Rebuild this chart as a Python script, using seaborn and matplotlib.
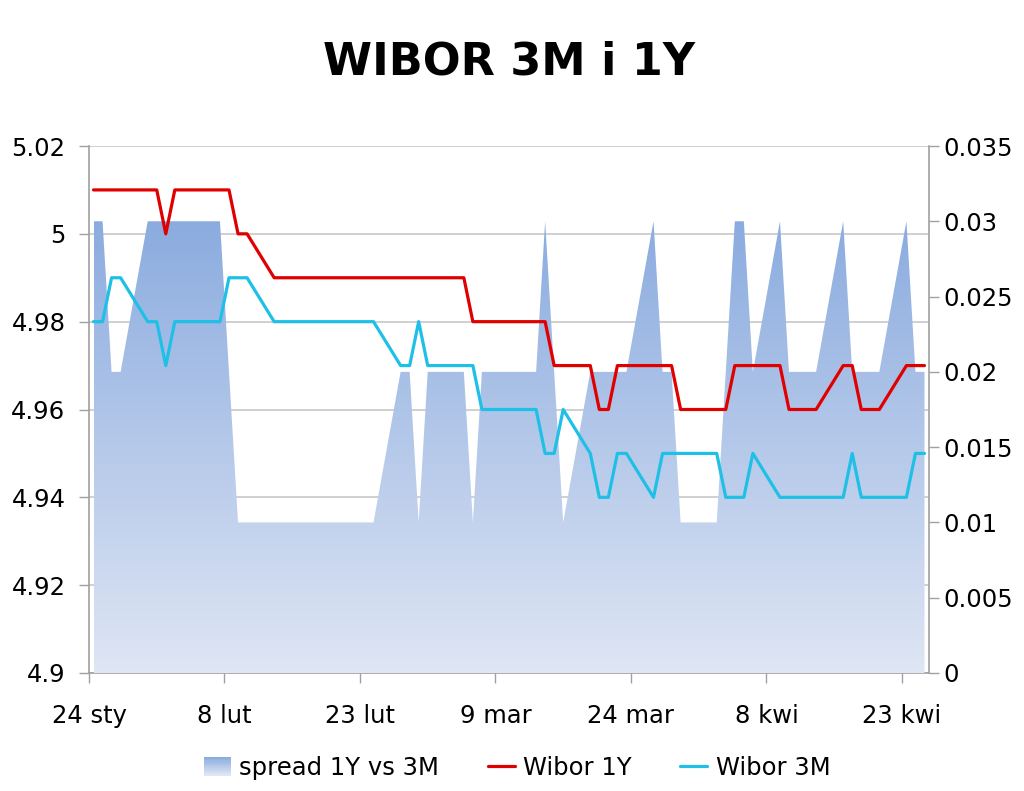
import numpy as np
import pandas as pd
import matplotlib
matplotlib.use("Agg")
import matplotlib.pyplot as plt
import matplotlib.dates as mdates
from matplotlib.lines import Line2D
from matplotlib.patches import Patch, Rectangle
from matplotlib.legend_handler import HandlerBase
from matplotlib.colors import to_rgb
import seaborn as sns

# ---------------- data ----------------
dates = [
    "2012-01-24", "2012-01-25", "2012-01-26", "2012-01-27",
    "2012-01-30", "2012-01-31", "2012-02-01", "2012-02-02", "2012-02-03",
    "2012-02-06", "2012-02-07", "2012-02-08", "2012-02-09", "2012-02-10",
    "2012-02-13", "2012-02-14", "2012-02-15", "2012-02-16", "2012-02-17",
    "2012-02-20", "2012-02-21", "2012-02-22", "2012-02-23", "2012-02-24",
    "2012-02-27", "2012-02-28", "2012-02-29", "2012-03-01", "2012-03-02",
    "2012-03-05", "2012-03-06", "2012-03-07", "2012-03-08", "2012-03-09",
    "2012-03-12", "2012-03-13", "2012-03-14", "2012-03-15", "2012-03-16",
    "2012-03-19", "2012-03-20", "2012-03-21", "2012-03-22", "2012-03-23",
    "2012-03-26", "2012-03-27", "2012-03-28", "2012-03-29", "2012-03-30",
    "2012-04-02", "2012-04-03", "2012-04-04", "2012-04-05", "2012-04-06",
    "2012-04-09", "2012-04-10", "2012-04-11", "2012-04-12", "2012-04-13",
    "2012-04-16", "2012-04-17", "2012-04-18", "2012-04-19", "2012-04-20",
    "2012-04-23", "2012-04-24", "2012-04-25",
]

wibor_1y = [
    5.01, 5.01, 5.01, 5.01,
    5.01, 5.01, 5.00, 5.01, 5.01,
    5.01, 5.01, 5.01, 5.00, 5.00,
    4.99, 4.99, 4.99, 4.99, 4.99,
    4.99, 4.99, 4.99, 4.99, 4.99,
    4.99, 4.99, 4.99, 4.99, 4.99,
    4.99, 4.98, 4.98, 4.98, 4.98,
    4.98, 4.98, 4.98, 4.97, 4.97,
    4.97, 4.96, 4.96, 4.97, 4.97,
    4.97, 4.97, 4.97, 4.96, 4.96,
    4.96, 4.96, 4.97, 4.97, 4.97,
    4.97, 4.96, 4.96, 4.96, 4.96,
    4.97, 4.97, 4.96, 4.96, 4.96,
    4.97, 4.97, 4.97,
]

wibor_3m = [
    4.98, 4.98, 4.99, 4.99,
    4.98, 4.98, 4.97, 4.98, 4.98,
    4.98, 4.98, 4.99, 4.99, 4.99,
    4.98, 4.98, 4.98, 4.98, 4.98,
    4.98, 4.98, 4.98, 4.98, 4.98,
    4.97, 4.97, 4.98, 4.97, 4.97,
    4.97, 4.97, 4.96, 4.96, 4.96,
    4.96, 4.96, 4.95, 4.95, 4.96,
    4.95, 4.94, 4.94, 4.95, 4.95,
    4.94, 4.95, 4.95, 4.95, 4.95,
    4.95, 4.94, 4.94, 4.94, 4.95,
    4.94, 4.94, 4.94, 4.94, 4.94,
    4.94, 4.95, 4.94, 4.94, 4.94,
    4.94, 4.95, 4.95,
]

spread = [
    0.03, 0.03, 0.02, 0.02,
    0.03, 0.03, 0.03, 0.03, 0.03,
    0.03, 0.03, 0.02, 0.01, 0.01,
    0.01, 0.01, 0.01, 0.01, 0.01,
    0.01, 0.01, 0.01, 0.01, 0.01,
    0.02, 0.02, 0.01, 0.02, 0.02,
    0.02, 0.01, 0.02, 0.02, 0.02,
    0.02, 0.02, 0.03, 0.02, 0.01,
    0.02, 0.02, 0.02, 0.02, 0.02,
    0.03, 0.02, 0.02, 0.01, 0.01,
    0.01, 0.02, 0.03, 0.03, 0.02,
    0.03, 0.02, 0.02, 0.02, 0.02,
    0.03, 0.02, 0.02, 0.02, 0.02,
    0.03, 0.02, 0.02,
]

tick_dates = ["2012-01-24", "2012-02-08", "2012-02-23", "2012-03-09",
              "2012-03-24", "2012-04-08", "2012-04-23"]
tick_labels = ["24 sty", "8 lut", "23 lut", "9 mar", "24 mar", "8 kwi", "23 kwi"]

left_ticks = [4.9, 4.92, 4.94, 4.96, 4.98, 5.0, 5.02]
left_labels = ["4.9", "4.92", "4.94", "4.96", "4.98", "5", "5.02"]
right_ticks = [0, 0.005, 0.01, 0.015, 0.02, 0.025, 0.03, 0.035]
right_labels = ["0", "0.005", "0.01", "0.015", "0.02", "0.025", "0.03", "0.035"]

x_start, x_end = "2012-01-24", "2012-04-26"

# ---------------- style ----------------
sns.set_style("white")
plt.rcParams["font.family"] = ["DejaVu Sans"]
plt.rcParams["text.color"] = "black"

RED = "#E00000"
CYAN = "#1EC0E6"
TOP = np.array(to_rgb("#8AABDF"))
BOT = np.array(to_rgb("#DFE6F4"))
AXC = "#A0A0A0"
GRIDC = "#C8C8C8"
FS = 17.5

df = pd.DataFrame({
    "date": pd.to_datetime(dates) + pd.Timedelta(hours=12),
    "w1y": wibor_1y,
    "w3m": wibor_3m,
    "spread": spread,
})

W, H = 1024, 791
fig = plt.figure(figsize=(W / 100, H / 100), dpi=100)
L, R, T, B = 89, 929, 146, 673
ax = fig.add_axes([L / W, 1 - B / H, (R - L) / W, (B - T) / H])
ax2 = ax.twinx()   # spread area (right axis)
ax3 = ax.twinx()   # lines (left scale)

ax.set_zorder(1)
ax2.set_zorder(2)
ax3.set_zorder(3)
for a in (ax2, ax3):
    a.patch.set_visible(False)

# ---- area with vertical gradient ----
xnum = mdates.date2num(df["date"])
poly = ax2.fill_between(xnum, 0, df["spread"], facecolor="none", edgecolor="none")
grad = np.linspace(0, 1, 256)[:, None]
img = TOP[None, None, :] * (1 - grad[..., None]) + BOT[None, None, :] * grad[..., None]
im = ax2.imshow(img, extent=[xnum.min(), xnum.max(), 0, max(spread) * 1.01],
                aspect="auto", origin="upper", interpolation="bilinear", zorder=1)
im.set_clip_path(poly.get_paths()[0], transform=ax2.transData)

# ---- lines ----
sns.lineplot(data=df, x="date", y="w1y", ax=ax3, color=RED, linewidth=2.3)
sns.lineplot(data=df, x="date", y="w3m", ax=ax3, color=CYAN, linewidth=2.3)

# ---- axes limits/ticks ----
xlo, xhi = pd.Timestamp(x_start), pd.Timestamp(x_end)
for a in (ax, ax2, ax3):
    a.set_xlim(xlo, xhi)
ax.set_ylim(4.9, 5.02)
ax3.set_ylim(4.9, 5.02)
ax2.set_ylim(0, 0.035)

ax.set_xticks(pd.to_datetime(tick_dates))
ax.set_xticklabels(tick_labels)
ax.set_yticks(left_ticks)
ax.set_yticklabels(left_labels)
ax2.set_yticks(right_ticks)
ax2.set_yticklabels(right_labels)

ax.grid(axis="y", color=GRIDC, linewidth=1.2)
ax.grid(axis="x", visible=False)
ax.tick_params(axis="x", direction="out", length=7, width=1, color=AXC,
               labelcolor="black", labelsize=FS, pad=15, bottom=True)
ax.tick_params(axis="y", direction="out", length=7, width=1, color=AXC,
               labelcolor="black", labelsize=FS, pad=10, left=True)
ax2.tick_params(axis="y", direction="out", length=7, width=1, color=AXC,
                labelcolor="black", labelsize=FS, pad=3, right=True)

ax3.set_axis_off()
ax3.set_xlabel("")
ax3.set_ylabel("")
ax.set_xlabel("")
ax.set_ylabel("")
ax2.set_ylabel("")

for a in (ax, ax2):
    for s in a.spines.values():
        s.set_visible(False)
ax.spines["left"].set_visible(True)
ax.spines["bottom"].set_visible(True)
ax2.spines["right"].set_visible(True)
for sp in (ax.spines["left"], ax.spines["bottom"], ax2.spines["right"]):
    sp.set_color(AXC)
    sp.set_linewidth(1.2)

# ---- title ----
fig.text(0.497, 1 - 62 / H, "WIBOR 3M i 1Y", ha="center", va="center",
         fontsize=32, fontweight="bold", color="black")

# ---- legend ----
class GradHandler(HandlerBase):
    def create_artists(self, legend, orig_handle, xdescent, ydescent,
                       width, height, fontsize, trans):
        n = 16
        arts = []
        for i in range(n):
            f = i / (n - 1)
            c = TOP * (1 - f) + BOT * f
            r = Rectangle((-xdescent, -ydescent + height * (n - 1 - i) / n),
                          width, height / n + 0.3, facecolor=c, edgecolor="none",
                          transform=trans)
            arts.append(r)
        return arts

h_area = Patch(facecolor="#B0C4EA")
h_1y = Line2D([], [], color=RED, linewidth=2.3)
h_3m = Line2D([], [], color=CYAN, linewidth=2.3)
leg = fig.legend([h_area, h_1y, h_3m], ["spread 1Y vs 3M", "Wibor 1Y", "Wibor 3M"],
                 loc="center", bbox_to_anchor=(0.505, 1 - 768 / H), ncol=3,
                 frameon=False, fontsize=FS, handlelength=1.1, handleheight=0.8,
                 handletextpad=0.35, columnspacing=2.0,
                 handler_map={Patch: GradHandler()})
for t in leg.get_texts():
    t.set_color("black")

fig.savefig("out.png", dpi=100)
